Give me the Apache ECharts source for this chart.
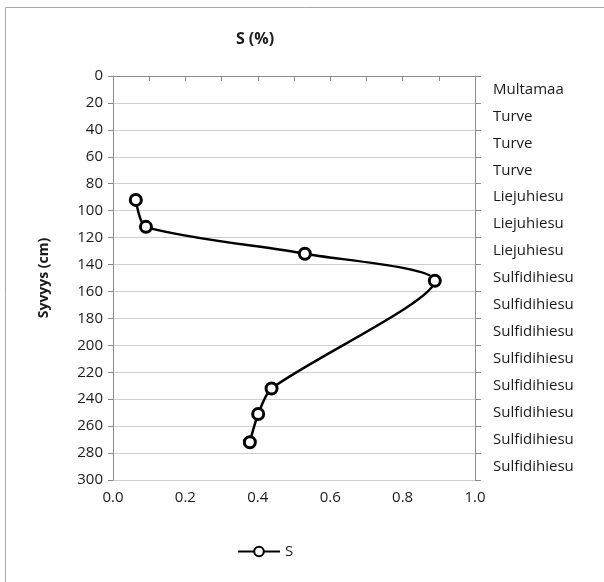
<!DOCTYPE html>
<html>
<head>
<meta charset="utf-8">
<script src="https://cdn.jsdelivr.net/npm/echarts@6/dist/echarts.min.js"></script>
<style>html,body{margin:0;padding:0;background:#fff}#c{width:604px;height:582px}</style>
</head>
<body>
<div id="c"></div>
<script>
var sValues = [0.063, 0.091, 0.530, 0.889, 0.438, 0.401, 0.378];
var depths = [92, 112, 132, 152, 232, 251, 272];
var soilLabels = ['Multamaa','Turve','Turve','Turve','Liejuhiesu','Liejuhiesu','Liejuhiesu','Sulfidihiesu','Sulfidihiesu','Sulfidihiesu','Sulfidihiesu','Sulfidihiesu','Sulfidihiesu','Sulfidihiesu','Sulfidihiesu'];
var FONT = '"Open Sans", sans-serif';
var textColor = '#1a1a1a';
var chart = echarts.init(document.getElementById('c'));
var pts = sValues.map(function(v, i){ return [v, depths[i]]; });
chart.setOption({
  animation: false,
  textStyle: {fontFamily: FONT},
  graphic: [{type:'rect', shape:{x:5.5, y:7.5, width:800, height:800}, style:{fill:'none', stroke:'#a8a8a8', lineWidth:1}, silent:true}],
  title: {text: 'S (%)', left: 250, top: 26, textAlign: 'center',
    textStyle: {fontFamily: FONT, fontSize: 16, fontWeight: 'bold', color: textColor}},
  grid: {left: 113, right: 129, top: 76, bottom: 102, containLabel: false},
  legend: {bottom: 18, left: 232, itemWidth: 42, itemHeight: 12, itemGap: 4,
    textStyle: {fontFamily: FONT, fontSize: 15, color: textColor}, data: ['S']},
  xAxis: {type: 'value', min: 0, max: 1, interval: 0.1,
    axisLine: {show: true, lineStyle: {color: '#8c8c8c'}},
    axisTick: {show: true, inside: false, length: 5, lineStyle: {color: '#8c8c8c'}},
    splitLine: {show: false},
    axisLabel: {margin: 10, fontFamily: FONT, fontSize: 15, color: textColor,
      formatter: function(v, i){ return (Math.round(v*10) % 2 === 0) ? v.toFixed(1) : ''; }}},
  yAxis: [{type: 'value', inverse: true, min: 0, max: 300, interval: 20,
    name: 'Syvyys (cm)', nameLocation: 'middle', nameGap: 62, nameRotate: 90,
    nameTextStyle: {fontFamily: FONT, fontSize: 14, fontWeight: 'bold', color: textColor},
    axisLine: {show: true, lineStyle: {color: '#8c8c8c'}},
    axisTick: {show: true, inside: false, length: 5, lineStyle: {color: '#8c8c8c'}},
    splitLine: {show: true, lineStyle: {color: '#cfcfcf', width: 1}},
    axisLabel: {margin: 10, fontFamily: FONT, fontSize: 15, color: textColor}},
   {type: 'category', position: 'right', inverse: true, boundaryGap: true, data: soilLabels,
    axisLine: {show: true, lineStyle: {color: '#8c8c8c'}},
    axisTick: {show: true, inside: false, length: 6, lineStyle: {color: '#8c8c8c'}},
    splitLine: {show: false},
    axisLabel: {margin: 18, fontFamily: FONT, fontSize: 15, color: textColor, align: 'left'}}],
  series: [{name: 'S', type: 'line', yAxisIndex: 0, data: pts, smooth: 0.25,
    symbol: 'circle', symbolSize: 11, showSymbol: true,
    lineStyle: {color: '#000', width: 2.5},
    itemStyle: {color: '#fff', borderColor: '#000', borderWidth: 3}}]
});
</script>
</body>
</html>
